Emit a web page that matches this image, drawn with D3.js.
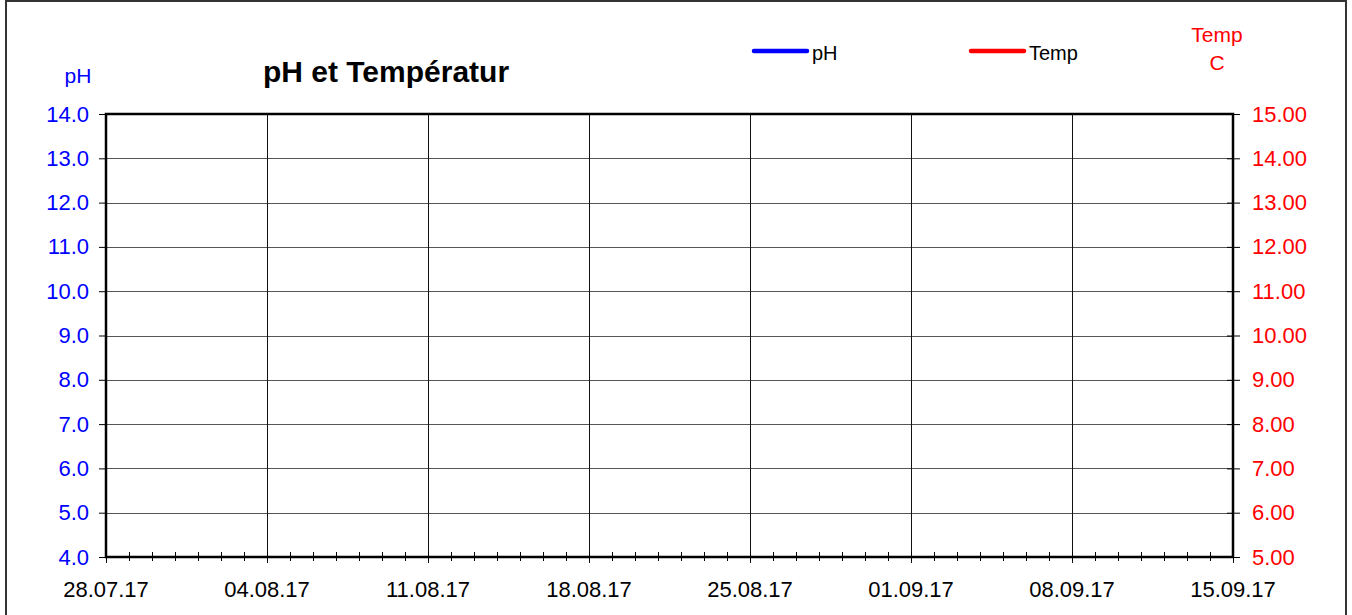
<!DOCTYPE html>
<html>
<head>
<meta charset="utf-8">
<script src="https://cdn.jsdelivr.net/npm/d3@7"></script>
<style>
  body { margin: 0; background: #fff; }
  text { font-family: "Liberation Sans", Arial, sans-serif; }
</style>
</head>
<body>
<svg id="chart" width="1352" height="615"></svg>
<script>
// chart data (empty series, only axes are shown)
var startDate = "28.07.17";
var endDate = "15.09.17";
var phDomain = [4, 14];
var tempDomain = [5, 15];
var seriesNames = ["pH", "Temp"];
var seriesColors = ["#0000ff", "#ff0000"];
var phValues = [];
var tempValues = [];

var parse = d3.utcParse("%d.%m.%y");
var fmt = d3.utcFormat("%d.%m.%y");

var svg = d3.select("#chart");
var margin = { left: 106, right: 1233, top: 114, bottom: 557 };

// outer frame
svg.append("rect")
    .attr("x", 6).attr("y", 1)
    .attr("width", 1340).attr("height", 630)
    .attr("fill", "none")
    .attr("stroke", "#333")
    .attr("stroke-width", 2);

var t0 = parse(startDate), t1 = parse(endDate);
var x = d3.scaleUtc().domain([t0, t1]).range([margin.left, margin.right]);
var yL = d3.scaleLinear().domain(phDomain).range([margin.bottom, margin.top]);
var yR = d3.scaleLinear().domain(tempDomain).range([margin.bottom, margin.top]);

var days = d3.utcDay.range(t0, d3.utcDay.offset(t1, 1));
var weeks = days.filter(function(d, i) { return i % 7 === 0; });

// horizontal grid
svg.append("g").selectAll("line")
    .data(yL.ticks(10))
    .enter().append("line")
    .attr("x1", margin.left).attr("x2", margin.right)
    .attr("y1", function(d) { return Math.round(yL(d)) + 0.5; })
    .attr("y2", function(d) { return Math.round(yL(d)) + 0.5; })
    .attr("stroke", "#555").attr("stroke-width", 1);

// vertical grid
svg.append("g").selectAll("line")
    .data(weeks)
    .enter().append("line")
    .attr("x1", function(d) { return Math.round(x(d)) + 0.5; })
    .attr("x2", function(d) { return Math.round(x(d)) + 0.5; })
    .attr("y1", margin.top).attr("y2", margin.bottom + 6)
    .attr("stroke", "#111").attr("stroke-width", 1);

// data lines (no data)
var lineL = d3.line().x(function(d) { return x(d[0]); }).y(function(d) { return yL(d[1]); });
var lineR = d3.line().x(function(d) { return x(d[0]); }).y(function(d) { return yR(d[1]); });
svg.append("path").datum(phValues).attr("d", lineL).attr("fill", "none").attr("stroke", seriesColors[0]).attr("stroke-width", 3);
svg.append("path").datum(tempValues).attr("d", lineR).attr("fill", "none").attr("stroke", seriesColors[1]).attr("stroke-width", 3);

// left axis
var gL = svg.append("g").attr("transform", "translate(" + margin.left + ",0)")
    .call(d3.axisLeft(yL).ticks(10).tickFormat(d3.format(".1f")).tickSize(7).tickPadding(10));
gL.select(".domain").remove();
gL.selectAll(".tick line").attr("stroke", "#000");
gL.selectAll("text").attr("fill", "#0000ff").style("font-size", "22px");

// right axis
var gR = svg.append("g").attr("transform", "translate(" + margin.right + ",0)")
    .call(d3.axisRight(yR).ticks(10).tickFormat(d3.format(".2f")).tickSize(7).tickPadding(12));
gR.select(".domain").remove();
gR.selectAll(".tick line").attr("stroke", "#000").attr("x1", -6);
gR.selectAll("text").attr("fill", "#ff0000").style("font-size", "22px");

// bottom axis minor ticks (days)
var gB = svg.append("g").attr("transform", "translate(0," + margin.bottom + ")");
gB.selectAll("line.minor")
    .data(days)
    .enter().append("line")
    .attr("class", "minor")
    .attr("x1", function(d) { return Math.round(x(d)) + 0.5; })
    .attr("x2", function(d) { return Math.round(x(d)) + 0.5; })
    .attr("y1", -5).attr("y2", 4)
    .attr("stroke", "#000").attr("stroke-width", 1);
gB.selectAll("text")
    .data(weeks)
    .enter().append("text")
    .attr("x", function(d) { return x(d); })
    .attr("y", 40)
    .attr("text-anchor", "middle")
    .style("font-size", "22px")
    .attr("fill", "#000")
    .text(function(d) { return fmt(d); });

// plot frame
svg.append("rect")
    .attr("x", margin.left).attr("y", margin.top)
    .attr("width", margin.right - margin.left)
    .attr("height", margin.bottom - margin.top)
    .attr("fill", "none")
    .attr("stroke", "#000")
    .attr("stroke-width", 2.5);

// axis titles
svg.append("text").attr("x", 78).attr("y", 83).attr("text-anchor", "middle")
    .attr("fill", "#0000ff").style("font-size", "21px").text("pH");
svg.append("text").attr("x", 1217).attr("y", 42).attr("text-anchor", "middle")
    .attr("fill", "#ff0000").style("font-size", "21px").text("Temp");
svg.append("text").attr("x", 1217).attr("y", 70).attr("text-anchor", "middle")
    .attr("fill", "#ff0000").style("font-size", "21px").text("C");

// title
svg.append("text").attr("x", 386).attr("y", 82).attr("text-anchor", "middle")
    .style("font-size", "30px").style("font-weight", "bold").attr("fill", "#000")
    .text("pH et Températur");

// legend
var legX = [752, 969];
var leg = svg.append("g").selectAll("g")
    .data(seriesNames)
    .enter().append("g")
    .attr("transform", function(d, i) { return "translate(" + legX[i] + ",51)"; });
leg.append("line").attr("x1", 2).attr("x2", 55)
    .attr("stroke", function(d, i) { return seriesColors[i]; })
    .attr("stroke-width", 4.5).attr("stroke-linecap", "round");
leg.append("text").attr("x", 60).attr("y", 9)
    .style("font-size", "20px").attr("fill", "#000")
    .text(function(d) { return d; });
</script>
</body>
</html>
